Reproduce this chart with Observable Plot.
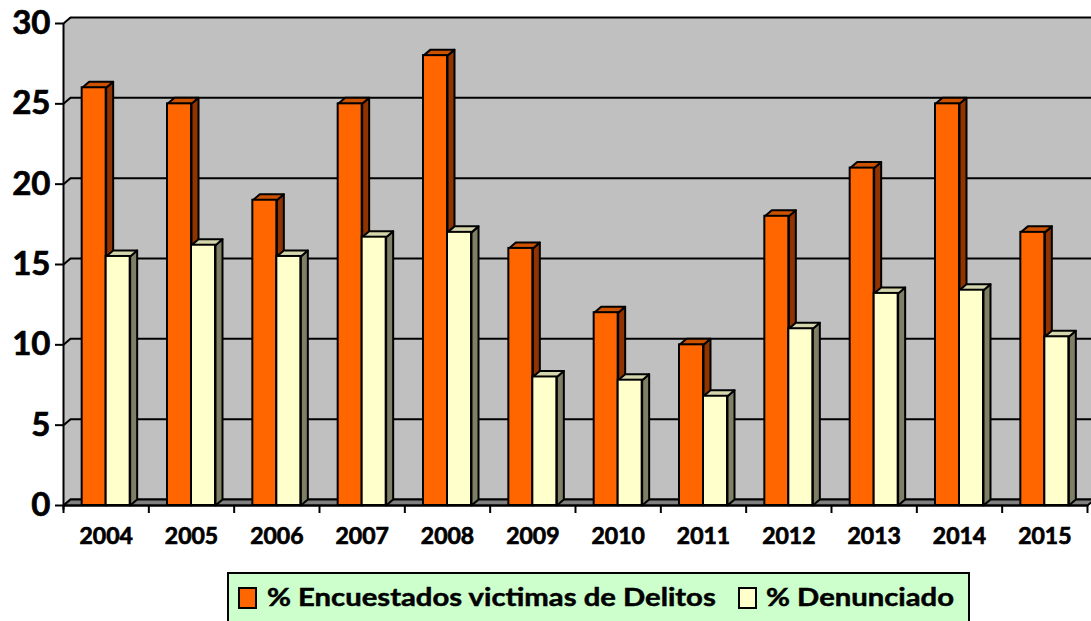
<!DOCTYPE html>
<html>
<head>
<meta charset="utf-8">
<script src="https://cdn.jsdelivr.net/npm/d3@7"></script>
<script src="https://cdn.jsdelivr.net/npm/@observablehq/plot@0.6"></script>
<style>
  body { margin: 0; background: #fff; font-family: Lato, "Open Sans", sans-serif; }
  #chart svg { display: block; }
  #chart g[aria-label$="tick label"] { stroke: #000; stroke-width: 0.7px; }
  #legend {
    position: relative;
    margin-left: 227px; margin-top: 12px; width: 739px; height: 48px;
    background: #ccffcc; border: 2px solid #000; box-sizing: content-box;
    font-weight: 700; font-size: 25px; color: #000;
  }
  .sw { position: absolute; top: 13px; width: 15px; height: 18px; border: 2px solid #000; }
  .lt { position: absolute; top: 7px; white-space: nowrap; transform: scaleX(1.17); transform-origin: left center; -webkit-text-stroke: 0.5px #000; }
</style>
</head>
<body>
<div id="chart"></div>
<div id="legend">
  <span class="sw" style="left:9px;background:#ff6600"></span>
  <span class="lt" style="left:38px">% Encuestados victimas de Delitos</span>
  <span class="sw" style="left:509px;background:#ffffcc"></span>
  <span class="lt" style="left:537px">% Denunciado</span>
</div>
<script>
// ---- data ----
const years = [2004, 2005, 2006, 2007, 2008, 2009, 2010, 2011, 2012, 2013, 2014, 2015];
const victimas = [26, 25, 19, 25, 28, 16, 12, 10, 18, 21, 25, 17];
const denunciado = [15.5, 16.2, 15.5, 16.7, 17.0, 8.0, 7.8, 6.8, 11.0, 13.2, 13.4, 10.5];
const yTicks = [0, 5, 10, 15, 20, 25, 30];

// ---- layout ----
const W = 1091, H = 560;
const mL = 63, mR = 4, mT = 23, mB = 55;
const X0 = years[0] - 0.5, X1 = years[years.length - 1] + 0.5;
const pxX = (W - mL - mR) / (X1 - X0);
const pxY = (H - mT - mB) / 30;
const ddx = 7 / pxX, ddy = 6 / pxY;   // 3D depth in data units
const bw = 24 / pxX;                   // bar width in data units

const bars = [];
years.forEach((yr, i) => {
  bars.push({s: 0, x0: yr - bw, x1: yr, v: victimas[i], id: "a" + i});
  bars.push({s: 1, x0: yr, x1: yr + bw, v: denunciado[i], id: "b" + i});
});
const sideFace = s => bars.filter(b => b.s === s).flatMap(b => [
  {id: b.id, x: b.x1, y: 0}, {id: b.id, x: b.x1 + ddx, y: ddy},
  {id: b.id, x: b.x1 + ddx, y: b.v + ddy}, {id: b.id, x: b.x1, y: b.v}]);
const topFace = s => bars.filter(b => b.s === s).flatMap(b => [
  {id: b.id, x: b.x0, y: b.v}, {id: b.id, x: b.x0 + ddx, y: b.v + ddy},
  {id: b.id, x: b.x1 + ddx, y: b.v + ddy}, {id: b.id, x: b.x1, y: b.v}]);
const poly = (pts, fill, sw = 2) => Plot.line(pts, {x: "x", y: "y", z: "id", fill, stroke: sw ? "#000" : "none", strokeWidth: sw, curve: "linear-closed", strokeLinejoin: "round"});

const colors = [
  {front: "#ff6600", side: "#8f3300", top: "#cc5200"},
  {front: "#ffffcc", side: "#7f7f66", top: "#d6d6ad"}
];

const floor = [{id: "f", x: X0, y: 0}, {id: "f", x: X0 + ddx, y: ddy}, {id: "f", x: X1 + ddx, y: ddy}, {id: "f", x: X1, y: 0}];
const leftWall = [{id: "l", x: X0, y: 0}, {id: "l", x: X0 + ddx, y: ddy}, {id: "l", x: X0 + ddx, y: 30 + ddy}, {id: "l", x: X0, y: 30}];
const boundaries = d3.range(years.length + 1).map(i => X0 + i);

const barMarks = [0, 1].flatMap(s => [
  poly(sideFace(s), colors[s].side),
  poly(topFace(s), colors[s].top),
  Plot.rect(bars.filter(b => b.s === s), {x1: "x0", x2: "x1", y1: () => 0, y2: "v", fill: colors[s].front, stroke: "#000", strokeWidth: 2})
]);

const chart = Plot.plot({
  width: W, height: H,
  marginLeft: mL, marginRight: mR, marginTop: mT, marginBottom: mB,
  style: {fontFamily: "Lato, 'Open Sans', sans-serif", color: "#000", background: "#fff", overflow: "hidden"},
  x: {domain: [X0, X1]},
  y: {domain: [0, 30]},
  marks: [
    Plot.rect([0], {x1: () => X0 + ddx, x2: () => X1 + ddx, y1: () => ddy, y2: () => 30 + ddy, fill: "#c0c0c0"}),
    poly(leftWall, "#c0c0c0", 0),
    Plot.ruleY(yTicks, {y: d => d + ddy, x1: () => X0 + ddx, x2: () => X1 + ddx, stroke: "#000", strokeWidth: 2}),
    Plot.link(yTicks, {x1: () => X0, y1: d => d, x2: () => X0 + ddx, y2: d => d + ddy, stroke: "#000", strokeWidth: 2}),
    poly(floor, "#808080", 2),
    ...barMarks,
    Plot.ruleX([X0], {y1: () => -0.3, y2: () => 30, stroke: "#000", strokeWidth: 2}),
    Plot.ruleY([0], {x1: () => X0, x2: () => X1, stroke: "#000", strokeWidth: 2}),
    Plot.ruleX(boundaries, {y1: () => 0, y2: () => -8 / pxY, stroke: "#000", strokeWidth: 2}),
    Plot.axisY({ticks: yTicks, tickSize: 8, tickPadding: 5, fontSize: 33, fontWeight: 700, label: null, strokeWidth: 2}),
    Plot.axisX({ticks: years, tickSize: 0, tickPadding: 22, tickFormat: d => String(d), fontSize: 23, fontWeight: 700, label: null})
  ]
});
document.getElementById("chart").appendChild(chart);
</script>
</body>
</html>
